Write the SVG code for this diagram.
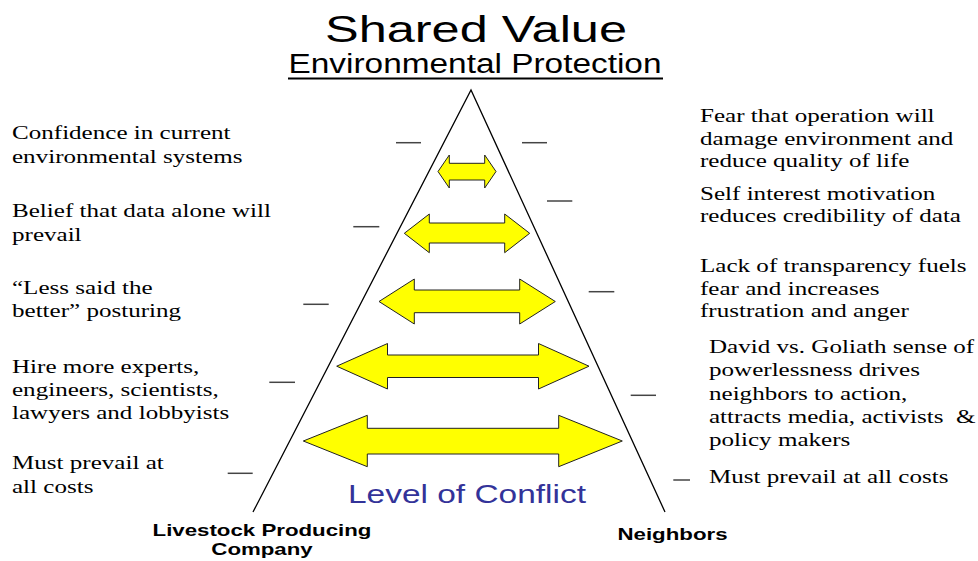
<svg xmlns="http://www.w3.org/2000/svg" width="978" height="561" viewBox="0 0 978 561">
<style>
.serif{font-family:"Liberation Serif","Times New Roman",serif;font-size:19px;fill:#000}
.sans{font-family:"Liberation Sans",Arial,sans-serif;fill:#000}
.bold{font-family:"Liberation Sans",Arial,sans-serif;font-weight:bold;font-size:17px;fill:#000}
.arrow{fill:#ffff00;stroke:#222;stroke-width:1;stroke-linejoin:miter}
.dash{stroke:#444;stroke-width:1.5}
.tri{stroke:#000;stroke-width:1.3;fill:none}
</style>
<rect width="978" height="561" fill="#fff"/>

<g id="title">
<text class="sans" x="476" y="42" font-size="37" text-anchor="middle" textLength="302" lengthAdjust="spacingAndGlyphs">Shared Value</text>
<text class="sans" x="475" y="72.5" font-size="27" text-anchor="middle" textLength="373" lengthAdjust="spacingAndGlyphs">Environmental Protection</text>
<line x1="288" y1="78.5" x2="663" y2="78.5" stroke="#000" stroke-width="2"/>
</g>

<g id="triangle">
<polyline class="tri" points="253,512 471,90 665,512"/>
</g>

<g id="arrows">
<path id="arrow1" class="arrow" d="M438,171.5 L449.3,155 L449.3,163.3 L484.7,163.3 L484.7,155 L496,171.5 L484.7,188 L484.7,180 L449.3,180 L449.3,188 Z"/>
<path id="arrow2" class="arrow" d="M404.3,233.3 L429.3,214 L429.3,223 L504.7,223 L504.7,214 L529.7,233.3 L504.7,252.7 L504.7,243 L429.3,243 L429.3,252.7 Z"/>
<path id="arrow3" class="arrow" d="M379,301.5 L414.3,279 L414.3,290 L519.7,290 L519.7,279 L555.3,301.5 L519.7,324 L519.7,312.7 L414.3,312.7 L414.3,324 Z"/>
<path id="arrow4" class="arrow" d="M336.7,366.2 L387.5,343.5 L387.5,355 L538.5,355 L538.5,343.5 L589,366.2 L538.5,389 L538.5,377.5 L387.5,377.5 L387.5,389 Z"/>
<path id="arrow5" class="arrow" d="M303.3,441 L367.3,415.3 L367.3,428.3 L558.7,428.3 L558.7,415.3 L622.3,441 L558.7,466.7 L558.7,454 L367.3,454 L367.3,466.7 Z"/>
</g>

<g id="connectors">
<line class="dash" x1="396" y1="142.7" x2="421" y2="142.7"/>
<line class="dash" x1="522" y1="142.7" x2="547" y2="142.7"/>
<line class="dash" x1="547" y1="201" x2="572.3" y2="201"/>
<line class="dash" x1="353.3" y1="226.7" x2="379.3" y2="226.7"/>
<line class="dash" x1="588.7" y1="291.7" x2="614.3" y2="291.7"/>
<line class="dash" x1="303.3" y1="304.3" x2="328.7" y2="304.3"/>
<line class="dash" x1="269.3" y1="382.3" x2="295" y2="382.3"/>
<line class="dash" x1="630.7" y1="395.3" x2="656" y2="395.3"/>
<line class="dash" x1="227.7" y1="473.3" x2="252.7" y2="473.3"/>
<line class="dash" x1="673.3" y1="480" x2="690" y2="480"/>
</g>

<g id="left1"><text class="serif" transform="translate(12,0) scale(1.32,1)"><tspan x="0" y="139">Confidence in current</tspan><tspan x="0" y="163">environmental systems</tspan></text></g>
<g id="left2"><text class="serif" transform="translate(12,0) scale(1.32,1)"><tspan x="0" y="217">Belief that data alone will</tspan><tspan x="0" y="241">prevail</tspan></text></g>
<g id="left3"><text class="serif" transform="translate(12,0) scale(1.32,1)"><tspan x="0" y="294.5">“Less said the</tspan><tspan x="0" y="317.5">better” posturing</tspan></text></g>
<g id="left4"><text class="serif" transform="translate(12,0) scale(1.32,1)"><tspan x="0" y="373">Hire more experts,</tspan><tspan x="0" y="396">engineers, scientists,</tspan><tspan x="0" y="419">lawyers and lobbyists</tspan></text></g>
<g id="left5"><text class="serif" transform="translate(12,0) scale(1.32,1)"><tspan x="0" y="469.5">Must prevail at</tspan><tspan x="0" y="493.5">all costs</tspan></text></g>

<g id="right1"><text class="serif" transform="translate(700,0) scale(1.32,1)"><tspan x="0" y="122">Fear that operation will</tspan><tspan x="0" y="145">damage environment and</tspan><tspan x="0" y="167.5">reduce quality of life</tspan></text></g>
<g id="right2"><text class="serif" transform="translate(700,0) scale(1.32,1)"><tspan x="0" y="200">Self interest motivation</tspan><tspan x="0" y="222.5">reduces credibility of data</tspan></text></g>
<g id="right3"><text class="serif" transform="translate(700,0) scale(1.32,1)"><tspan x="0" y="272.5">Lack of transparency fuels</tspan><tspan x="0" y="295">fear and increases</tspan><tspan x="0" y="317">frustration and anger</tspan></text></g>
<g id="right4"><text class="serif" transform="translate(709,0) scale(1.32,1)"><tspan x="0" y="353">David vs. Goliath sense of</tspan><tspan x="0" y="376.5">powerlessness drives</tspan><tspan x="0" y="400">neighbors to action,</tspan><tspan x="0" y="423">attracts media, activists&#160; &amp;</tspan><tspan x="0" y="446">policy makers</tspan></text></g>
<g id="right5"><text class="serif" transform="translate(709,0) scale(1.32,1)"><tspan x="0" y="483">Must prevail at all costs</tspan></text></g>

<g id="conflict-label">
<text class="sans" x="348" y="502.5" font-size="25.5" fill="#333399" style="fill:#333399" textLength="238" lengthAdjust="spacingAndGlyphs">Level of Conflict</text>
</g>
<g id="company-label">
<text class="bold" text-anchor="middle" transform="translate(262,0) scale(1.31,1)"><tspan x="0" y="536.5">Livestock Producing</tspan><tspan x="0" y="555">Company</tspan></text>
</g>
<g id="neighbors-label">
<text class="bold" text-anchor="middle" transform="translate(672.5,0) scale(1.31,1)"><tspan x="0" y="540">Neighbors</tspan></text>
</g>
</svg>
